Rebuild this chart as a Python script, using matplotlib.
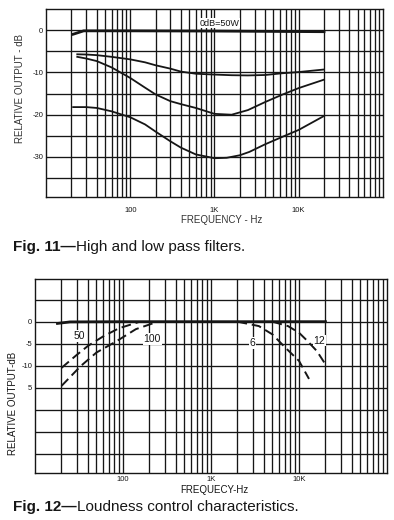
import matplotlib
matplotlib.use("Agg")
import matplotlib.pyplot as plt
import numpy as np

plt.rcParams['font.family'] = ['Liberation Sans', 'DejaVu Sans']

# Fig. 11 - high and low pass filters (frequency in Hz, output in dB)
flat_f = [21, 28, 100, 1000, 20000]
flat_db = [-0.95, -0.15, -0.15, -0.2, -0.35]

upper_f = [23.5, 30, 40, 60, 100, 150, 200, 300, 400, 600, 1000, 1600, 2500, 4000, 6300, 10000, 20000]
upper_db = [-5.7, -5.75, -5.9, -6.3, -6.9, -7.6, -8.3, -9.1, -9.8, -10.3, -10.5, -10.65, -10.7, -10.6, -10.2, -9.9, -9.3]

middle_f = [23.5, 30, 40, 60, 100, 150, 200, 300, 400, 600, 1000, 1600, 2500, 4000, 6300, 10000, 20000]
middle_db = [-6.3, -6.7, -7.3, -8.8, -11.3, -13.6, -15.2, -16.8, -17.5, -18.4, -19.8, -20.0, -18.9, -17.0, -15.3, -13.7, -11.7]

lower_f = [21, 30, 40, 60, 100, 150, 200, 300, 400, 600, 1000, 1400, 2000, 2600, 4000, 6300, 10000, 20000]
lower_db = [-18.2, -18.2, -18.4, -19.2, -20.6, -22.3, -24.0, -26.3, -27.8, -29.4, -30.3, -30.2, -29.6, -28.8, -27.0, -25.3, -23.6, -20.3]

# Fig. 12 - loudness control characteristics
ref_f = [18, 25, 100, 1000, 20000]
ref_db = [-0.4, -0.05, 0, 0, 0]

lc50_f = [20, 30, 40, 60, 90, 150]
lc50_db = [-10.5, -7.5, -5.5, -3.3, -1.5, -0.1]

lc100_f = [20, 33, 50, 85, 140, 240]
lc100_db = [-14.6, -10.1, -7.0, -4.4, -1.7, -0.1]

hc6_f = [2000, 3500, 5000, 7000, 10000, 13000]
hc6_db = [0, -1.0, -2.9, -5.9, -8.9, -13.0]

hc12_f = [5000, 7500, 10000, 12500, 16000, 20000]
hc12_db = [0, -1.0, -2.5, -4.4, -6.7, -9.7]

curve_labels = ["50", "100", "6", "12"]
curve_label_pos = [(32, -3.3), (215, -3.9), (2950, -4.8), (17000, -4.3)]

ink = '#161616'

# log grid: 2..9 in every decade plus the decades
grid_x = []
for dec in [10, 100, 1000, 10000]:
    for m in range(1, 10):
        if dec * m > 10:
            grid_x.append(dec * m)


def setup(ax, ylim, grid_y, ytick_vals, ytick_text, xpad):
    ax.set_xscale('log')
    ax.set_xlim(10, 100000)
    ax.set_ylim(*ylim)
    for x in grid_x:
        ax.axvline(x, color=ink, lw=0.95, zorder=1)
    for y in grid_y:
        ax.axhline(y, color=ink, lw=0.95, zorder=1)
    ax.set_xticks([100, 1000, 10000])
    ax.set_xticklabels(["100", "1K", "10K"])
    ax.xaxis.set_minor_locator(plt.NullLocator())
    ax.set_yticks(ytick_vals)
    ax.set_yticklabels(ytick_text)
    ax.tick_params(axis='x', length=0, pad=xpad, labelsize=5.5, colors=ink)
    ax.tick_params(axis='y', length=0, pad=2, labelsize=5.5, colors=ink)
    for s in ax.spines.values():
        s.set_color(ink)
        s.set_linewidth(1.0)


fig = plt.figure(figsize=(3.94, 5.2), dpi=100)

# ---- Fig. 11 ----
ax1 = fig.add_axes([0.1168, 0.621, 0.855, 0.3615])
setup(ax1, (-39.5, 5), [0, -5, -10, -15, -20, -25, -30, -35],
      [0, -10, -20, -30], ["0", "-10", "-20", "-30"], 7)
ax1.plot(flat_f, flat_db, color=ink, lw=2.0, zorder=3)
for f, d in [(upper_f, upper_db), (middle_f, middle_db), (lower_f, lower_db)]:
    ax1.plot(f, d, color=ink, lw=1.3, zorder=3)
ax1.text(1150, 1.7, "0dB=50W", fontsize=6.5, ha='center', va='center', color=ink,
         bbox=dict(facecolor='white', edgecolor='none', pad=0.3), zorder=4)

fig.text(0.0508, 0.829, "RELATIVE OUTPUT - dB", rotation=90, fontsize=7,
         ha='center', va='center', color='#333333')
fig.text(0.563, 0.577, "FREQUENCY - Hz", fontsize=7, ha='center', va='center', color='#333333')

# ---- Fig. 12 ----
ax2 = fig.add_axes([0.0888, 0.091, 0.8934, 0.3725])
setup(ax2, (-34.3, 9.7), [5, 0, -5, -10, -15, -20, -25, -30],
      [0, -5, -10, -15], ["0", "-5", "-10", "5"], 2.5)
ax2.plot(ref_f, ref_db, color=ink, lw=2.0, zorder=3)
for f, d in [(lc50_f, lc50_db), (lc100_f, lc100_db), (hc6_f, hc6_db), (hc12_f, hc12_db)]:
    ax2.plot(f, d, color=ink, lw=1.4, dashes=(5, 2.5), zorder=3)
for lab, (x, y) in zip(curve_labels, curve_label_pos):
    ax2.text(x, y, lab, fontsize=7.5, ha='center', va='center', color=ink,
             bbox=dict(facecolor='white', edgecolor='none', pad=0.5), zorder=4)

fig.text(0.033, 0.225, "RELATIVE OUTPUT-dB", rotation=90, fontsize=7,
         ha='center', va='center', color=ink)
fig.text(0.543, 0.0577, "FREQUECY-Hz", fontsize=7, ha='center', va='center', color=ink)

# captions: bold figure number, regular description
fig.canvas.draw()
renderer = fig.canvas.get_renderer()
for y, num, desc in [(1 - 247 / 520, "Fig. 11\u2014", "High and low pass filters."),
                     (1 - 507 / 520, "Fig. 12\u2014", "Loudness control characteristics.")]:
    t = fig.text(0.033, y, num, fontsize=11, fontweight='bold', ha='left', va='center', color=ink)
    bb = t.get_window_extent(renderer)
    fig.text(bb.x1 / fig.bbox.width, y, desc, fontsize=11, ha='left', va='center', color=ink)

fig.savefig("out.png", dpi=100, facecolor='white')
